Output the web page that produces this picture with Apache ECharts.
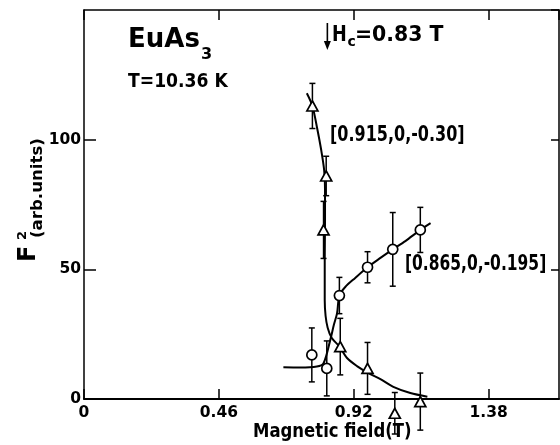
<!DOCTYPE html>
<html>
<head>
<meta charset="utf-8">
<script src="https://cdn.jsdelivr.net/npm/echarts@6/dist/echarts.min.js"></script>
<style>
html, body { margin: 0; padding: 0; background: #fff; }
#main { width: 560px; height: 445px; }
</style>
</head>
<body>
<div id="main"></div>
<script>
// [0.915,0,-0.30] reflection, triangles
var triX = [0.779, 0.826, 0.817, 0.874, 0.967, 1.060, 1.147];
var triY = [113.0, 86.0, 65.2, 20.2, 11.8, -5.5, -1.0];
var triErr = [8.7, 7.6, 11.0, 10.9, 10.0, 8.0, 11.0];

// [0.865,0,-0.195] reflection, circles
var circX = [0.777, 0.828, 0.871, 0.967, 1.053, 1.147];
var circY = [17.0, 11.8, 39.9, 50.8, 57.7, 65.2];
var circErr = [10.4, 10.6, 7.0, 6.0, 14.2, 8.7];

// drawn guide curves
var triCurveX = [0.760, 0.779, 0.795, 0.809, 0.819, 0.822, 0.822, 0.821, 0.821, 0.824, 0.831, 0.845, 0.870, 0.897, 0.931, 0.970, 1.011, 1.055, 1.113, 1.171];
var triCurveY = [117.9, 113.0, 104.5, 96.0, 88.3, 80.6, 69.0, 53.6, 38.2, 32.0, 27.5, 23.5, 20.4, 15.8, 12.7, 10.0, 7.7, 4.7, 2.3, 0.9];
var circCurveX = [0.680, 0.737, 0.794, 0.817, 0.840, 0.852, 0.863, 0.871, 0.891, 0.925, 0.967, 1.011, 1.053, 1.096, 1.147, 1.182];
var circCurveY = [12.2, 12.1, 12.5, 13.8, 22.8, 28.5, 33.0, 39.9, 43.2, 46.7, 50.8, 54.4, 57.7, 60.9, 65.2, 67.8];

var xTicks = [0, 0.46, 0.92, 1.38];
var yTicks = [0, 50, 100];
var hc = 0.83;

var FONT = '"DejaVu Sans"';
var myChart = echarts.init(document.getElementById('main'));

function pairs(xs, ys, es) {
	var out = [];
	for (var i = 0; i < xs.length; i++) {
		out.push(es ? [xs[i], ys[i], es[i]] : [xs[i], ys[i]]);
	}
	return out;
}

function errBar(params, api) {
	var x = api.value(0), y = api.value(1), e = api.value(2);
	var top = api.coord([x, y + e]);
	var bot = api.coord([x, y - e]);
	var st = { stroke: '#000', lineWidth: 1.5 };
	return {
		type: 'group',
		children: [
			{ type: 'line', shape: { x1: top[0], y1: top[1], x2: bot[0], y2: bot[1] }, style: st },
			{ type: 'line', shape: { x1: top[0] - 3, y1: top[1], x2: top[0] + 3, y2: top[1] }, style: st },
			{ type: 'line', shape: { x1: bot[0] - 3, y1: bot[1], x2: bot[0] + 3, y2: bot[1] }, style: st }
		]
	};
}

// bold text, y is the middle of the em box
function txt(text, x, y, size, extra) {
	var el = {
		type: 'text',
		x: x,
		y: y,
		z: 10,
		style: {
			text: text,
			font: 'bold ' + size + 'px ' + FONT,
			fill: '#000',
			align: 'left',
			textAlign: 'left',
			verticalAlign: 'middle',
			textVerticalAlign: 'middle'
		}
	};
	for (var k in extra) el[k] = extra[k];
	return el;
}

function xAxisDef(pos) {
	return {
		type: 'value',
		position: pos,
		min: 0,
		max: 1.62,
		interval: 0.46,
		axisLine: { show: true, onZero: false, lineStyle: { color: '#000', width: pos == 'bottom' ? 2 : 1.5 } },
		axisTick: { show: true, inside: true, length: 10, lineStyle: { color: '#000', width: 1.5 } },
		axisLabel: {
			show: pos == 'bottom',
			showMaxLabel: false,
			margin: 6,
			color: '#000',
			fontSize: 15.5,
			fontWeight: 'bold',
			fontFamily: FONT,
			formatter: function(v) {
				for (var i = 0; i < xTicks.length; i++) {
					if (Math.abs(v - xTicks[i]) < 1e-6) return i == 0 ? '0' : xTicks[i].toFixed(2);
				}
				return '';
			}
		},
		splitLine: { show: false }
	};
}

function yAxisDef(pos) {
	return {
		type: 'value',
		position: pos,
		min: 0,
		max: 150,
		interval: 50,
		axisLine: { show: true, onZero: false, lineStyle: { color: '#000', width: 1.5 } },
		axisTick: { show: true, inside: true, length: pos == 'left' ? 12 : 8, lineStyle: { color: '#000', width: 1.5 } },
		axisLabel: {
			show: pos == 'left',
			showMaxLabel: false,
			margin: 3,
			color: '#000',
			fontSize: 15.5,
			fontWeight: 'bold',
			fontFamily: FONT,
			formatter: function(v) {
				return yTicks.indexOf(v) >= 0 ? String(v) : '';
			}
		},
		splitLine: { show: false }
	};
}

var option = {
	animation: false,
	backgroundColor: '#fff',
	grid: {
		left: 84,
		right: 1,
		top: 10,
		bottom: 46,
		containLabel: false,
		outerBoundsMode: 'none'
	},
	xAxis: [xAxisDef('bottom'), xAxisDef('top')],
	yAxis: [yAxisDef('left'), yAxisDef('right')],
	series: [{
		name: 'tri curve',
		type: 'line',
		data: pairs(triCurveX, triCurveY),
		showSymbol: false,
		symbol: 'none',
		smooth: 0.3,
		clip: false,
		z: 2,
		lineStyle: { color: '#000', width: 2 }
	}, {
		name: 'circ curve',
		type: 'line',
		data: pairs(circCurveX, circCurveY),
		showSymbol: false,
		symbol: 'none',
		smooth: 0.3,
		clip: false,
		z: 2,
		lineStyle: { color: '#000', width: 2 }
	}, {
		name: 'tri err',
		type: 'custom',
		renderItem: errBar,
		data: pairs(triX, triY, triErr),
		clip: false,
		z: 3
	}, {
		name: 'circ err',
		type: 'custom',
		renderItem: errBar,
		data: pairs(circX, circY, circErr),
		clip: false,
		z: 3
	}, {
		name: '[0.915,0,-0.30]',
		type: 'scatter',
		symbol: 'triangle',
		symbolSize: [11, 10],
		data: pairs(triX, triY),
		clip: false,
		z: 4,
		itemStyle: { color: '#fff', borderColor: '#000', borderWidth: 1.7, opacity: 1 }
	}, {
		name: '[0.865,0,-0.195]',
		type: 'scatter',
		symbol: 'circle',
		symbolSize: 10,
		data: pairs(circX, circY),
		clip: false,
		z: 4,
		itemStyle: { color: '#fff', borderColor: '#000', borderWidth: 1.7, opacity: 1 }
	}]
};
myChart.setOption(option, true);

// annotations
var ax = myChart.convertToPixel({ xAxisIndex: 0 }, hc);
myChart.setOption({
	graphic: [
		txt('EuAs', 128, 40, 26),
		txt('3', 201, 55, 16),
		txt('T=10.36 K', 128, 82, 17.2, { scaleY: 1.15 }),
		txt('H', 332, 35, 21.5, { scaleX: 0.82 }),
		txt('c', 347.5, 42, 14),
		txt('=0.83 T', 355, 35, 21.5, { scaleX: 0.95 }),
		{
			type: 'line',
			z: 10,
			shape: { x1: ax, y1: 23, x2: ax, y2: 46 },
			style: { stroke: '#000', lineWidth: 1.6 }
		}, {
			type: 'polygon',
			z: 10,
			shape: { points: [[ax - 3.5, 41], [ax + 3.5, 41], [ax, 50]] },
			style: { fill: '#000' }
		},
		txt('[0.915,0,-0.30]', 330, 135, 16, { scaleY: 1.35 }),
		txt('[0.865,0,-0.195]', 405, 265, 15.5, { scaleY: 1.35 }),
		txt('Magnetic field(T)', 253, 432, 16.5, { scaleY: 1.2 }),
		txt('F', 29, 262, 24, { rotation: Math.PI / 2 }),
		txt('2', 23, 240, 13, { rotation: Math.PI / 2 }),
		txt('(arb.units)', 38, 238, 16.6, { rotation: Math.PI / 2 })
	]
});

window.onresize = function() {
	myChart.resize();
};
</script>
</body>
</html>
